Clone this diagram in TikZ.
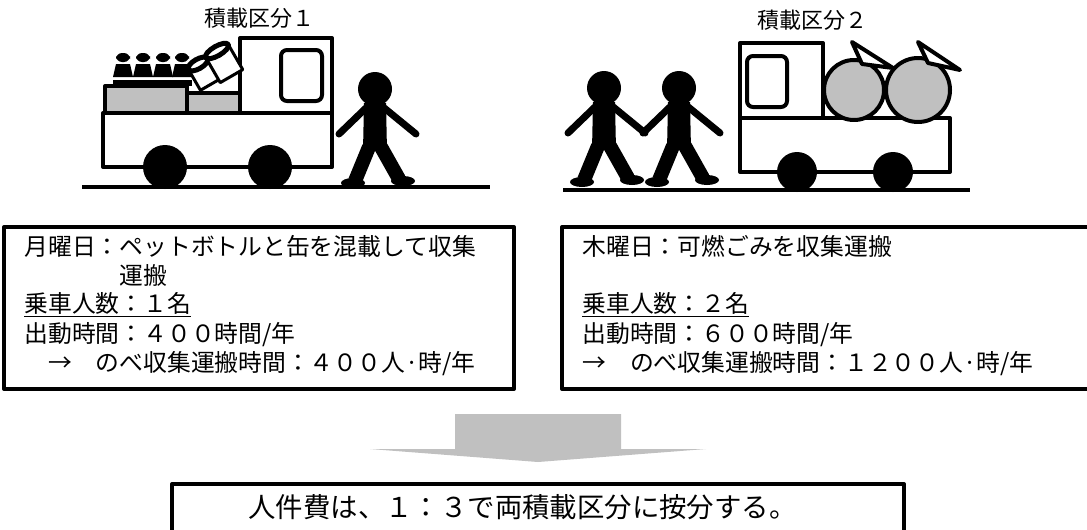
\documentclass[tikz,border=0pt]{standalone}
\usepackage{fontspec}
\setmainfont{Noto Sans CJK JP}
\definecolor{bag}{RGB}{192,192,192}

\tikzset{
  walker/.pic={
    \fill (0,0) circle (8.5pt);
    \fill (-11,14) -- (11,14) -- (12,62) -- (-12,62) -- cycle;
    \draw[line width=3.5pt,line cap=round] (-8,18) -- (-36,45);
    \draw[line width=3.5pt,line cap=round] (8,18) -- (41,45);
    \draw[line width=7pt] (-6,58) -- (-20,92);
    \draw[line width=7pt] (6,58) -- (24,90);
    \fill (-22,94) ellipse (6pt and 2.5pt);
    \fill (28,92) ellipse (6pt and 2.5pt);
  }
}

\begin{document}
\begin{tikzpicture}[x=0.5pt,y=-0.5pt,line join=round,
    body/.style={draw=black,line width=2pt,fill=white},
    box/.style={draw=black,line width=2pt},
    txt/.style={anchor=west,inner sep=0pt,font=\fontsize{11.9}{14}\selectfont},
    ttl/.style={inner sep=0pt,font=\fontsize{11}{13}\selectfont}]
\useasboundingbox (0,0) rectangle (1087,530);
\fill[white] (0,0) rectangle (1087,530);

\node (t1) at (259,18) [ttl] {積載区分１};
\node (t2) at (812,20) [ttl] {積載区分２};

% truck with bottles and cans
\draw[body] (103,113) rectangle (332,167);
\draw[body] (240,38) rectangle (332,113);
\draw[line width=2pt,rounded corners=3pt] (281,50) rectangle (322,101);
\draw[line width=2pt,fill=bag] (105,86) rectangle (187,113);
\draw[line width=2pt,fill=bag] (187,93) rectangle (240,113);
\foreach \x in {123,143,163,182} {
  \fill[rounded corners=3pt] (\x-7,53) rectangle (\x+7,62);
  \fill (\x-7,64) -- (\x+7,64) -- (\x+10,77) -- (\x-10,77) -- cycle;
  \fill (\x-10,80) rectangle (\x+10,86);
}
\foreach \cx/\cy/\len/\w in {198/64/24/11,217/51/29/13} {
  \begin{scope}[shift={(\cx,\cy)},rotate=30]
    \draw[line width=1.5pt,fill=white] (-\w,0) -- (-\w,\len) -- (\w,\len) -- (\w,0) -- cycle;
    \draw[line width=2.5pt,fill=white] (0,0) ellipse (\w*0.5pt and 2.4pt);
  \end{scope}
}
\fill (165,167) circle (11pt);
\fill (270,167) circle (11pt);
\draw[line width=2pt] (82,187) -- (490,187);
\pic at (375,89) {walker};

% truck with two bags
\draw[body] (740,118) rectangle (950,172);
\draw[body] (740,43) rectangle (823,118);
\draw[line width=2pt,rounded corners=3pt] (747,56) rectangle (787,107);
\draw[line width=2pt,fill=bag] (854,90) circle (15pt);
\draw[line width=2pt,fill=bag] (918,90) circle (16pt);
\draw[line width=2pt,fill=white] (852,42) -- (893,68) -- (862,64) -- cycle;
\draw[line width=2pt,fill=white] (918,42) -- (960,70) -- (928,63) -- cycle;
\fill (797,172) circle (10pt);
\fill (893,172) circle (10pt);
\draw[line width=2pt] (563,190) -- (970,190);
\pic at (604,88) {walker};
\pic at (679,88) {walker};

% notes
\draw[box] (4,227) rectangle (514,389);
\node (l1) at (24,246) [txt] {月曜日：ペットボトルと缶を混載して収集};
\node (l2) at (119,275.5) [txt] {運搬};
\node (l3) at (24,305) [txt] {\underline{乗車人数：１名}};
\node (l4) at (24,334.5) [txt] {出動時間：４００時間/年};
\node (l5) at (24,364) [txt] {　→　のべ収集運搬時間：４００人·時/年};

\draw[box] (562,227) rectangle (1095,389);
\node (r1) at (582,246) [txt] {木曜日：可燃ごみを収集運搬};
\node (r3) at (582,305) [txt] {\underline{乗車人数：２名}};
\node (r4) at (582,334.5) [txt] {出動時間：６００時間/年};
\node (r5) at (582,364) [txt] {→　のべ収集運搬時間：１２００人·時/年};

\fill[bag] (455,414) -- (621,414) -- (621,449) -- (706,449) -- (538,462)
  -- (370,449) -- (455,449) -- cycle;

\draw[box] (172,484) rectangle (904,545);
\node (res) at (248,507) [anchor=west,inner sep=0pt,font=\fontsize{13.7}{16}\selectfont]
  {人件費は、１：３で両積載区分に按分する。};
\end{tikzpicture}
\end{document}
